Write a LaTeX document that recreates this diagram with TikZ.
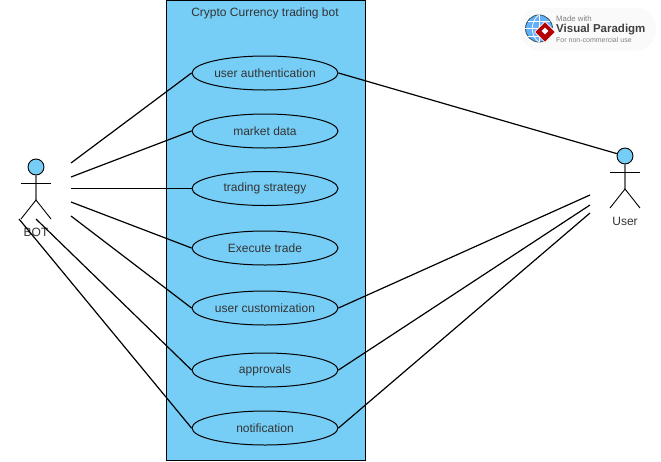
\documentclass[tikz,border=0pt]{standalone}
\usepackage{fontspec}
\setmainfont{Liberation Sans}
\usetikzlibrary{shapes.geometric}
\definecolor{skyfill}{HTML}{76CEF7}
\definecolor{inkgrey}{HTML}{333333}
\tikzstyle{usecase} = [ellipse, minimum width=146pt, minimum height=34pt,
    inner sep=0pt, draw=black, fill=skyfill, line width=1pt, text=inkgrey,
    font=\fontsize{12}{14}\selectfont]
\tikzstyle{head} = [circle, minimum size=16pt, inner sep=0pt, draw=black, fill=skyfill, line width=0.9pt]
\tikzstyle{limb} = [draw=black, line width=0.9pt]
\tikzstyle{spine} = [draw=black!55, line width=1.5pt]
\tikzstyle{link} = [draw=black, line width=1.2pt]
\tikzstyle{caption} = [inner sep=0pt, text=inkgrey, font=\fontsize{12}{14}\selectfont]
\tikzstyle{gridline} = [draw=white, line width=0.7pt]

\begin{document}
\begin{tikzpicture}[x=1pt, y=-1pt]
        \useasboundingbox (0,0) rectangle (661,461);

        % System box
        \node (system) [rectangle, draw=black, fill=skyfill, line width=1pt, inner sep=0pt,
            minimum width=199pt, minimum height=460pt] at (265.5,230) {};
        \node (title) [caption] at (265,13.5) {Crypto Currency trading bot};

        % Use cases
        \node (auth) [usecase] at (265,73) {user authentication};
        \node (market) [usecase] at (265,131) {market data};
        \node (strategy) [usecase] at (265,188.5) {trading strategy};
        \node (execute) [usecase] at (265,248) {Execute trade};
        \node (custom) [usecase] at (265,308) {user customization};
        \node (approvals) [usecase] at (265,370) {approvals};
        \node (notify) [usecase] at (265,428) {notification};

        % Actor on the left
        \node (bothead) [head] at (36,167) {};
        \coordinate (bothip) at (36,200);
        \coordinate (botarml) at (21,183);
        \coordinate (botarmr) at (51,183);
        \coordinate (botlegl) at (21,219);
        \coordinate (botlegr) at (51,219);
        \node (botlabel) [caption] at (36,232.5) {BOT};
        \draw [spine] (bothead) -- (bothip);
        \draw [limb] (botarml) -- (botarmr);
        \draw [limb] (botlegl) -- (bothip) -- (botlegr);

        % Actor on the right
        \node (userhead) [head] at (625,156) {};
        \coordinate (userhip) at (625,189);
        \coordinate (userarml) at (610,172);
        \coordinate (userarmr) at (640,172);
        \coordinate (userlegl) at (610,208);
        \coordinate (userlegr) at (640,208);
        \node (userlabel) [caption] at (625,221.5) {User};
        \draw [spine] (userhead) -- (userhip);
        \draw [limb] (userarml) -- (userarmr);
        \draw [limb] (userlegl) -- (userhip) -- (userlegr);

        % Free ends of the connectors
        \coordinate (b1) at (71,163);
        \coordinate (b2) at (71,177);
        \coordinate (b3) at (71,188.5);
        \coordinate (b4) at (71,202);
        \coordinate (b5) at (71,216);
        \coordinate (b6) at (36,219);
        \coordinate (b7) at (19,219);
        \coordinate (u1) at (590,195);
        \coordinate (u2) at (590,205);
        \coordinate (u3) at (590,213);

        % Connectors
        \draw [link] (b1) -- (auth.west);
        \draw [link] (b2) -- (market.west);
        \draw [link] (b3) -- (strategy.west);
        \draw [link] (b4) -- (execute.west);
        \draw [link] (b5) -- (custom.west);
        \draw [link] (b6) -- (approvals.west);
        \draw [link] (b7) -- (notify.west);
        \draw [link] (auth.east) -- (userhead);
        \draw [link] (custom.east) -- (u1);
        \draw [link] (approvals.east) -- (u2);
        \draw [link] (notify.east) -- (u3);

        % Badge
        \node (badge) [rectangle, rounded corners=20pt, fill=black!2, inner sep=0pt,
            minimum width=136pt, minimum height=43pt] at (588,29) {};
        \node (globe) [circle, minimum size=27pt, inner sep=0pt, draw=black!55!skyfill, fill=skyfill!85!blue, line width=0.9pt] at (539,28.5) {};
        \draw [gridline] (globe.west) -- (globe.east);
        \draw [gridline] (globe.north) -- (globe.south);
        \draw [gridline] (528,21) -- (550,21);
        \draw [gridline] (528,36) -- (550,36);
        \draw [gridline] (globe.north) .. controls (530,22) and (530,35) .. (globe.south);
        \node (gem) [diamond, minimum size=21pt, inner sep=0pt, fill=red!70!black, draw=white, line width=0.8pt] at (545,32) {};
        \node (gemhole) [diamond, minimum size=7pt, inner sep=0pt, fill=white] at (545,31) {};
        \node (made) [inner sep=0pt, text=black!50, font=\fontsize{7.8}{9}\selectfont, anchor=west] at (556,18.5) {Made with};
        \node (brand) [inner sep=0pt, text=black!75, font=\fontsize{11.5}{13}\selectfont\bfseries, anchor=west] at (556,29.5) {Visual Paradigm};
        \node (usenote) [inner sep=0pt, text=black!50, font=\fontsize{7}{8}\selectfont, anchor=west] at (556,39.5) {For non-commercial use};

    \end{tikzpicture}
\end{document}
